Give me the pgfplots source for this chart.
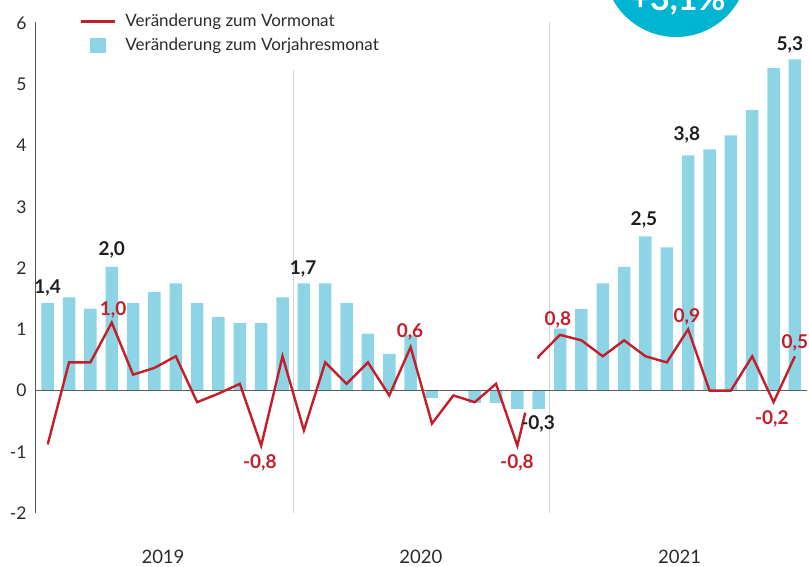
\documentclass[border=0pt]{standalone}
\usepackage{fontspec}
\setmainfont{Lato}
\usepackage{pgfplots}
\usepackage{pgfplotstable}
\pgfplotsset{compat=1.18}
\definecolor{barc}{HTML}{8DD5E5}
\definecolor{linec}{HTML}{C41E2A}
\definecolor{circc}{HTML}{00B5D1}
\definecolor{tickc}{HTML}{2A2A2A}
\definecolor{lblc}{HTML}{1E1E1E}
\definecolor{sepc}{HTML}{CDD3DB}
\definecolor{axisc}{HTML}{555555}
\definecolor{zeroc}{HTML}{5E5E5E}

\pgfplotstableread{
x yoy mom
0 1.43 -0.88
1 1.52 0.46
2 1.34 0.46
3 2.02 1.11
4 1.43 0.26
5 1.61 0.37
6 1.75 0.56
7 1.43 -0.19
8 1.20 -0.05
9 1.10 0.11
10 1.10 -0.90
11 1.52 0.56
12 1.75 -0.65
13 1.75 0.46
14 1.43 0.11
15 0.93 0.46
16 0.60 -0.08
17 0.90 0.71
18 -0.12 -0.54
19 0.00 -0.08
20 -0.20 -0.19
21 -0.20 0.11
22 -0.30 -0.90
23 -0.30 0.56
24 1.01 0.91
25 1.33 0.82
26 1.75 0.56
27 2.02 0.82
28 2.52 0.56
29 2.34 0.46
30 3.84 1.00
31 3.94 0.00
32 4.17 0.00
33 4.58 0.56
34 5.27 -0.19
35 5.41 0.56
}\data

\newcommand{\lblfont}{\fontsize{19}{19}\selectfont\bfseries}
\newcommand{\txtfont}{\fontsize{17}{17}\selectfont}
\newcommand{\yrfont}{\fontsize{18.5}{18.5}\selectfont}

\begin{document}
\begin{tikzpicture}[x=1pt,y=1pt]
\begin{axis}[
  at={(35pt,54pt)}, anchor=south west,
  scale only axis, width=774pt, height=491pt,
  xmin=-0.595, xmax=35.66, ymin=-2, ymax=6.02,
  axis x line=none, axis y line*=left,
  axis line style={draw=axisc, line width=1pt},
  ytick={-2,-1,0,1,2,3,4,5,6},
  yticklabels={-2,-1,0,1,2,3,4,5,6},
  major tick length=0pt,
  yticklabel style={font=\fontsize{17.5}{17.5}\selectfont, text=tickc, anchor=east, xshift=-5pt},
  /pgf/number format/assume math mode=true,
  clip=false,
  reverse legend,
  legend style={at={(0.058,1.02)}, anchor=north west, draw=none, fill=none,
    font=\txtfont, text=tickc, inner sep=0pt, row sep=6pt,
    cells={anchor=west},
    /tikz/every odd column/.append style={column sep=7pt}},
]
\draw[sepc, line width=1pt] (axis cs:11.5,5.24) -- (axis cs:11.5,-2);
\draw[sepc, line width=1pt] (axis cs:23.5,6.02) -- (axis cs:23.5,-2);

\addplot[ybar, bar width=12.5pt, fill=barc, draw=none,
  legend image code/.code={\path (0pt,0pt) -- (34pt,0pt); \fill[barc] (9pt,-8pt) rectangle (25pt,7.5pt);}]
  table[x=x,y=yoy]{\data};
\addlegendentry{Veränderung zum Vorjahresmonat}

\draw[zeroc, line width=1.3pt] (axis cs:-0.595,0) -- (axis cs:35.55,0);

\addplot[linec, line width=2.4pt, mark=none, line join=miter,
  legend image code/.code={\draw[linec, line width=2.4pt] (0pt,0pt) -- (34pt,0pt);}]
  table[x=x,y=mom]{\data};
\addlegendentry{Veränderung zum Vormonat}

% gap in the line behind the label
\draw[white, line width=4.6pt, shorten >=2.5pt] (axis cs:22.37,-0.36) -- (axis cs:23,0.56);
\draw[zeroc, line width=1.3pt] (axis cs:22.3,0) -- (axis cs:22.9,0);

% black labels
\node[font=\lblfont, text=lblc] at (axis cs:0,1.67) {1,4};
\node[font=\lblfont, text=lblc] at (axis cs:3.0,2.3) {2,0};
\node[font=\lblfont, text=lblc] at (axis cs:11.96,1.99) {1,7};
\node[font=\lblfont, text=lblc] at (axis cs:22.97,-0.54) {-0,3};
\node[font=\lblfont, text=lblc] at (axis cs:27.93,2.78) {2,5};
\node[font=\lblfont, text=lblc] at (axis cs:29.94,4.17) {3,8};
\node[font=\lblfont, text=lblc] at (axis cs:34.76,5.65) {5,3};
% red labels
\node[font=\lblfont, text=linec] at (axis cs:3.06,1.32) {1,0};
\node[font=\lblfont, text=linec] at (axis cs:9.94,-1.18) {-0,8};
\node[font=\lblfont, text=linec] at (axis cs:16.97,0.96) {0,6};
\node[font=\lblfont, text=linec] at (axis cs:21.98,-1.18) {-0,8};
\node[font=\lblfont, text=linec] at (axis cs:23.9,1.16) {0,8};
\node[font=\lblfont, text=linec] at (axis cs:29.94,1.21) {0,9};
\node[font=\lblfont, text=linec] at (axis cs:33.92,-0.46) {-0,2};
\node[font=\lblfont, text=linec] at (axis cs:35.0,0.78) {0,5};
% years
\node[font=\yrfont, text=tickc] at (axis cs:5.4,-2.72) {2019};
\node[font=\yrfont, text=tickc] at (axis cs:17.48,-2.72) {2020};
\node[font=\yrfont, text=tickc] at (axis cs:29.6,-2.72) {2021};
\end{axis}
\begin{scope}
\clip (0,0) rectangle (809,567);
\fill[circc] (676,602) circle (72);
\node[white, font=\fontsize{34}{34}\selectfont\bfseries, anchor=base, inner sep=0pt] at (678,556) {+3,1\%};
\end{scope}
\pgfresetboundingbox
\useasboundingbox (0,0) rectangle (809,567);
\end{tikzpicture}
\end{document}
